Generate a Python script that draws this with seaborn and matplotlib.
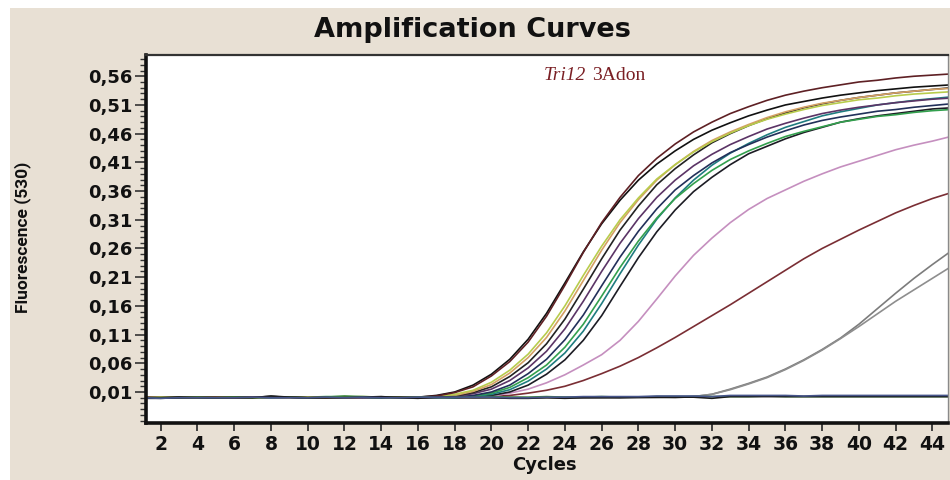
import matplotlib
matplotlib.use("Agg")
import matplotlib.pyplot as plt
from matplotlib.patches import Rectangle
from matplotlib.ticker import FixedLocator, MultipleLocator, FuncFormatter
import pandas as pd
import seaborn as sns

# Cycle numbers of the qPCR run
cycles = list(range(1, 46))

# Fluorescence (530 nm) per cycle for each well
well_k1 = [0.000, 0.000, 0.001, 0.001, 0.000, 0.001, 0.001, 0.002, 0.001, 0.000,
           0.001, 0.001, 0.001, 0.001, 0.001,
           0.001, 0.004, 0.010, 0.022, 0.041, 0.067, 0.102, 0.147, 0.200, 0.254,
           0.303, 0.344, 0.379, 0.407, 0.430, 0.450, 0.466, 0.479, 0.491, 0.501,
           0.510, 0.516, 0.522, 0.527, 0.531, 0.535, 0.538, 0.541, 0.543, 0.545]
well_r1 = [0.001, 0.000, 0.000, 0.001, 0.001, 0.000, 0.001, 0.001, 0.001, 0.000,
           0.000, 0.001, 0.001, 0.001, 0.000,
           0.001, 0.003, 0.009, 0.019, 0.038, 0.063, 0.097, 0.142, 0.196, 0.253,
           0.305, 0.349, 0.387, 0.417, 0.442, 0.463, 0.480, 0.495, 0.507, 0.518,
           0.527, 0.534, 0.540, 0.545, 0.550, 0.553, 0.557, 0.560, 0.562, 0.564]
well_yg = [0.000, 0.001, 0.000, 0.000, 0.001, 0.001, 0.000, 0.001, 0.001, 0.001,
           0.000, 0.001, 0.002, 0.001, 0.001, 0.001,
           0.002, 0.006, 0.013, 0.027, 0.048, 0.076, 0.113, 0.160, 0.213, 0.264,
           0.310, 0.348, 0.381, 0.406, 0.428, 0.446, 0.461, 0.474, 0.485, 0.494,
           0.502, 0.509, 0.514, 0.519, 0.522, 0.526, 0.529, 0.531, 0.533]
well_or = [0.001, 0.001, 0.000, 0.001, 0.000, 0.000, 0.001, 0.001, 0.000, 0.001,
           0.001, 0.000, 0.001, 0.001, 0.000, 0.001,
           0.001, 0.004, 0.011, 0.023, 0.043, 0.070, 0.105, 0.151, 0.204, 0.257,
           0.305, 0.345, 0.379, 0.406, 0.429, 0.448, 0.463, 0.476, 0.488, 0.498,
           0.506, 0.513, 0.518, 0.523, 0.527, 0.531, 0.534, 0.537, 0.539]
well_k2 = [0.000, 0.000, 0.001, 0.000, 0.001, 0.001, 0.001, 0.002, 0.001, 0.000,
           0.000, 0.001, 0.001, 0.000, 0.001, 0.001,
           0.001, 0.003, 0.009, 0.019, 0.037, 0.061, 0.094, 0.137, 0.189, 0.242,
           0.292, 0.334, 0.371, 0.399, 0.423, 0.444, 0.460, 0.474, 0.486, 0.496,
           0.505, 0.512, 0.518, 0.523, 0.527, 0.531, 0.534, 0.537, 0.540]
well_pu = [0.001, 0.000, 0.000, 0.001, 0.001, 0.000, 0.000, 0.001, 0.001, 0.001,
           0.000, 0.000, 0.001, 0.001, 0.001, 0.000, 0.001,
           0.002, 0.007, 0.015, 0.030, 0.052, 0.081, 0.120, 0.168, 0.220, 0.269,
           0.312, 0.349, 0.379, 0.404, 0.424, 0.441, 0.455, 0.468, 0.478, 0.487,
           0.495, 0.501, 0.506, 0.510, 0.514, 0.517, 0.520, 0.522]
well_nv = [0.000, 0.001, 0.001, 0.000, 0.000, 0.001, 0.001, 0.001, 0.000, 0.000,
           0.001, 0.001, 0.000, 0.001, 0.000, 0.001, 0.000,
           0.001, 0.004, 0.010, 0.022, 0.042, 0.067, 0.101, 0.144, 0.195, 0.245,
           0.290, 0.329, 0.362, 0.387, 0.409, 0.427, 0.441, 0.454, 0.465, 0.475,
           0.483, 0.489, 0.494, 0.499, 0.502, 0.506, 0.509, 0.512]
well_gr = [0.001, 0.001, 0.000, 0.000, 0.001, 0.000, 0.001, 0.001, 0.000, 0.001,
           0.002, 0.002, 0.001, 0.000, 0.001, 0.001, 0.000,
           0.001, 0.003, 0.008, 0.018, 0.035, 0.057, 0.088, 0.128, 0.177, 0.227,
           0.273, 0.313, 0.347, 0.373, 0.396, 0.415, 0.430, 0.443, 0.455, 0.464,
           0.472, 0.480, 0.485, 0.490, 0.493, 0.497, 0.500, 0.502]
well_tl = [0.000, 0.000, 0.001, 0.001, 0.000, 0.000, 0.001, 0.000, 0.001, 0.001,
           0.000, 0.001, 0.001, 0.000, 0.000, 0.001, 0.001, 0.000,
           0.002, 0.006, 0.014, 0.029, 0.050, 0.078, 0.116, 0.164, 0.216, 0.266,
           0.311, 0.348, 0.379, 0.405, 0.426, 0.443, 0.458, 0.471, 0.481, 0.491,
           0.498, 0.504, 0.510, 0.514, 0.518, 0.521, 0.524]
well_k3 = [0.001, 0.000, 0.000, 0.000, 0.001, 0.001, 0.000, 0.001, 0.000, 0.000,
           0.001, 0.000, 0.001, 0.001, 0.000, 0.000, 0.001, 0.000,
           0.001, 0.004, 0.010, 0.022, 0.041, 0.066, 0.100, 0.143, 0.194, 0.244,
           0.289, 0.327, 0.359, 0.384, 0.406, 0.425, 0.438, 0.451, 0.462, 0.471,
           0.480, 0.486, 0.491, 0.495, 0.499, 0.503, 0.505]
well_pk = [0.000, 0.001, 0.000, 0.001, 0.000, 0.000, 0.001, 0.001, 0.000, 0.001,
           0.000, 0.001, 0.000, 0.001, 0.001, 0.000, 0.001, 0.001, 0.002,
           0.003, 0.008, 0.015, 0.026, 0.040, 0.057, 0.075, 0.100, 0.133, 0.172,
           0.212, 0.248, 0.278, 0.305, 0.328, 0.347, 0.362, 0.377, 0.390, 0.402,
           0.412, 0.422, 0.432, 0.440, 0.447, 0.455]
well_br = [0.001, 0.000, 0.000, 0.000, 0.001, 0.001, 0.000, 0.000, 0.001, 0.000,
           0.001, 0.000, 0.000, 0.001, 0.000, 0.001, 0.001, 0.000, 0.001,
           0.002, 0.004, 0.008, 0.013, 0.020, 0.030, 0.042, 0.055, 0.070, 0.087,
           0.105, 0.124, 0.143, 0.162, 0.182, 0.202, 0.222, 0.242, 0.260, 0.276,
           0.292, 0.307, 0.322, 0.335, 0.347, 0.357]
well_g1 = [0.000, 0.000, 0.001, 0.000, 0.000, 0.001, 0.000, 0.001, 0.000, 0.000,
           0.001, 0.000, 0.000, 0.001, 0.000, 0.000, 0.001, 0.000, 0.000, 0.001,
           0.000, 0.000, 0.001, 0.000, 0.000, 0.001, 0.000, 0.000, 0.001, 0.000,
           0.002, 0.006, 0.015, 0.025, 0.036, 0.050, 0.066, 0.084, 0.104, 0.128,
           0.155, 0.182, 0.208, 0.232, 0.255]
well_g2 = [0.000, 0.001, 0.000, 0.000, 0.001, 0.000, 0.000, 0.001, 0.000, 0.001,
           0.000, 0.000, 0.001, 0.000, 0.001, 0.000, 0.000, 0.001, 0.000, 0.000,
           0.001, 0.000, 0.000, 0.001, 0.000, 0.000, 0.001, 0.000, 0.000, 0.001,
           0.002, 0.006, 0.014, 0.024, 0.035, 0.049, 0.065, 0.083, 0.103, 0.124,
           0.146, 0.168, 0.188, 0.208, 0.228]
ntc_navy = [0.000, -0.001, 0.000, 0.000, 0.000, 0.000, 0.001, 0.000, 0.000, 0.000,
            0.001, 0.000, 0.001, 0.000, 0.000, 0.001, 0.001, 0.001, 0.001, 0.001,
            0.000, 0.000, 0.001, 0.001, 0.002, 0.002, 0.002, 0.002, 0.003, 0.003,
            0.003, 0.002, 0.004, 0.004, 0.004, 0.004, 0.003, 0.004, 0.004, 0.004,
            0.004, 0.004, 0.004, 0.004, 0.004]
ntc_green = [0.000, 0.000, 0.000, 0.001, 0.000, 0.001, 0.000, 0.001, 0.001, 0.000,
             0.001, 0.003, 0.002, 0.001, 0.000, 0.001, 0.001, 0.002, 0.001, 0.002,
             0.001, 0.001, 0.002, 0.001, 0.001, 0.002, 0.001, 0.001, 0.002, 0.002,
             0.002, 0.002, 0.002, 0.002, 0.003, 0.002, 0.002, 0.002, 0.002, 0.002,
             0.002, 0.002, 0.002, 0.002, 0.002]
ntc_black = [-0.001, -0.001, 0.000, 0.000, 0.000, 0.000, 0.000, 0.003, 0.001, 0.000,
             0.000, 0.000, 0.001, 0.002, 0.000, -0.001, 0.001, 0.001, 0.000, 0.000,
             -0.001, -0.001, 0.000, -0.001, 0.000, 0.000, 0.000, 0.001, 0.001, 0.001,
             0.001, -0.001, 0.002, 0.002, 0.002, 0.002, 0.002, 0.002, 0.002, 0.002,
             0.002, 0.002, 0.002, 0.002, 0.002]

wells = {
    "G1": well_g1, "G2": well_g2, "BR": well_br, "PK": well_pk,
    "K3": well_k3, "TL": well_tl, "GR": well_gr, "NV": well_nv, "PU": well_pu,
    "K2": well_k2, "OR": well_or, "YG": well_yg, "K1": well_k1, "R1": well_r1,
    "NTC_G": ntc_green, "NTC_K": ntc_black, "NTC_N": ntc_navy,
}
colors = {
    "G1": "#7c7c7c", "G2": "#8e8e8e", "BR": "#7a2e34", "PK": "#c58fbf",
    "K3": "#1c1c24", "TL": "#1f7c80", "GR": "#33a04e", "NV": "#22305a",
    "PU": "#5b3466", "K2": "#222222", "OR": "#d4a064", "YG": "#b8cc4c",
    "K1": "#111111", "R1": "#5e2024",
    "NTC_G": "#3f8a3a", "NTC_K": "#1a1a1a", "NTC_N": "#46558a",
}

y_ticks = [0.01, 0.06, 0.11, 0.16, 0.21, 0.26, 0.31, 0.36, 0.41, 0.46, 0.51, 0.56]
x_ticks = list(range(2, 45, 2))

frames = []
for name, vals in wells.items():
    frames.append(pd.DataFrame({"cycle": cycles, "fluor": vals, "well": name}))
df = pd.concat(frames, ignore_index=True)

sns.set_theme(style="white")
plt.rcParams["font.family"] = ["DejaVu Sans"]

fig = plt.figure(figsize=(9.5, 4.8), dpi=100, facecolor="white")
fig.add_artist(Rectangle((10 / 950, 0), 940 / 950, 472 / 480,
                         transform=fig.transFigure, facecolor="#e8e0d4",
                         edgecolor="none", zorder=0))

ax = fig.add_axes([146 / 950, 57 / 480, 802 / 950, 368 / 480])
ax.set_facecolor("white")

sns.lineplot(data=df, x="cycle", y="fluor", hue="well",
             hue_order=list(wells.keys()), palette=colors,
             estimator=None, sort=False, legend=False,
             linewidth=1.2, ax=ax)

ax.set_xlim(1.2, 44.85)
ax.set_ylim(-0.044, 0.597)

ax.xaxis.set_major_locator(FixedLocator(x_ticks))
ax.yaxis.set_major_locator(FixedLocator(y_ticks))
ax.yaxis.set_minor_locator(MultipleLocator(0.01))
ax.yaxis.set_major_formatter(FuncFormatter(lambda v, p: f"{v:.2f}".replace(".", ",")))

ax.tick_params(axis="x", which="major", bottom=True, length=6, width=1.3,
               color="#333333", pad=3, labelsize=13.5)
ax.tick_params(axis="y", which="major", left=True, length=8, width=1.2,
               color="#333333", pad=2, labelsize=13)
ax.tick_params(axis="y", which="minor", left=True, length=4, width=1.0,
               color="#333333")
for lab in ax.get_xticklabels() + ax.get_yticklabels():
    lab.set_fontweight("bold")
    lab.set_color("#111111")

for side, lw, col in [("left", 2.6, "#111111"), ("bottom", 2.6, "#111111"),
                      ("top", 1.6, "#333333"), ("right", 1.0, "#8a8a8a")]:
    ax.spines[side].set_visible(True)
    ax.spines[side].set_linewidth(lw)
    ax.spines[side].set_color(col)

ax.set_xlabel("")
ax.set_ylabel("")

fig.text(0.497, 0.937, "Amplification Curves", ha="center", va="center",
         fontsize=19.5, fontweight="heavy", color="#111111")
fig.text(0.573, 0.032, "Cycles", ha="center", va="center",
         fontsize=13, fontweight="bold", color="#111111")
fig.text(0.024, 0.506, "Fluorescence (530)", ha="center", va="center",
         rotation=90, fontsize=12.5, fontweight="bold", color="#111111",
         family=["Roboto", "DejaVu Sans"])

t_gene = ax.text(0.496, 0.943, "Tri12", transform=ax.transAxes,
                 ha="left", va="center", fontsize=14, fontstyle="italic",
                 color="#7a1f24", family=["Liberation Serif", "DejaVu Serif"])
ax.annotate("3Adon", xy=(1, 0), xycoords=t_gene, xytext=(4, 0),
            textcoords="offset points", ha="left", va="bottom",
            fontsize=14, color="#7a1f24",
            family=["Liberation Serif", "DejaVu Serif"])

fig.savefig("out.png", dpi=100, facecolor=fig.get_facecolor())
